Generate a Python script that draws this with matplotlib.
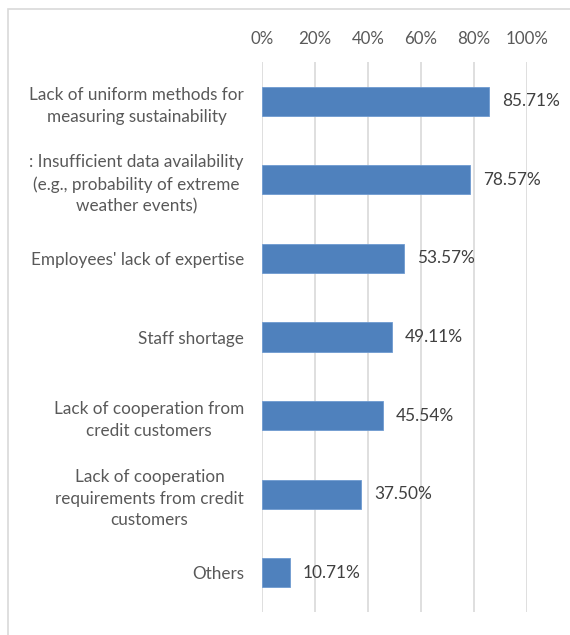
import matplotlib.pyplot as plt
from matplotlib.patches import Rectangle

categories = [
    "Lack of uniform methods for\nmeasuring sustainability",
    ": Insufficient data availability\n(e.g., probability of extreme\nweather events)",
    "Employees' lack of expertise",
    "Staff shortage",
    "Lack of cooperation from\ncredit customers",
    "Lack of cooperation\nrequirements from credit\ncustomers",
    "Others",
]
values = [85.71, 78.57, 53.57, 49.11, 45.54, 37.50, 10.71]
ticks = [0, 20, 40, 60, 80, 100]

plt.rcParams['font.family'] = ['Lato', 'DejaVu Sans']

fig = plt.figure(figsize=(5.7, 6.35), dpi=100)
ax = fig.add_axes([262 / 570, 1 - 612 / 635, 265 / 570, 550 / 635])

y = list(range(len(categories)))
ax.barh(y, values, height=0.37, color='#4f81bd', edgecolor='#6f9bd1', linewidth=0.6, zorder=3)
for yi, v in zip(y, values):
    ax.text(v + 4.8, yi, f"{v:.2f}%", va='center', ha='left', fontsize=12.4, color='#404040', zorder=4)

ax.set_ylim(len(categories) - 0.5, -0.5)
ax.set_xlim(0, 100)
ax.set_yticks(y)
ax.set_yticklabels(categories, fontsize=12.3, color='#595959', linespacing=1.45, multialignment='center')
ax.set_xticks(ticks)
ax.set_xticklabels([f"{t}%" for t in ticks], fontsize=12.2, color='#595959')
ax.xaxis.tick_top()
ax.tick_params(axis='both', length=0)
ax.tick_params(axis='x', pad=11)
ax.tick_params(axis='y', pad=13)
ax.grid(axis='x', color='#d9d9d9', linewidth=1.2, zorder=0)
for s in ax.spines.values():
    s.set_visible(False)

fig.patches.append(Rectangle((8 / 570, -0.05), 1.0, 1.05 - 9 / 635, transform=fig.transFigure,
                             fill=False, edgecolor='#d9d9d9', linewidth=1.2))

fig.savefig("out.png", dpi=100)
